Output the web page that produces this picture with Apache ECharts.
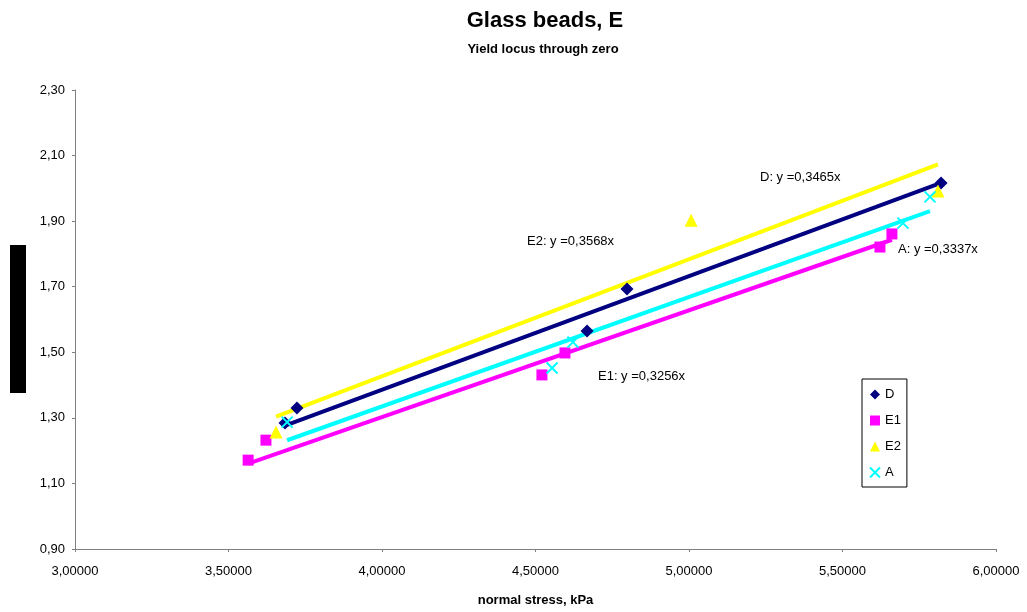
<!DOCTYPE html>
<html>
<head>
<meta charset="utf-8">
<script src="https://cdn.jsdelivr.net/npm/echarts@6/dist/echarts.min.js"></script>
<style>html,body{margin:0;padding:0;background:#fff;}#c{width:1027px;height:612px;}</style>
</head>
<body>
<div id="c"></div>
<script>
// ---- data ----
const seriesNames = ['D', 'E1', 'E2', 'A'];
const dataD  = [[3.684, 1.284], [3.723, 1.330], [4.668, 1.565], [4.798, 1.693], [5.821, 2.016]];
const dataE1 = [[3.564, 1.171], [3.622, 1.232], [4.521, 1.431], [4.596, 1.498], [5.622, 1.821], [5.661, 1.861]];
const dataE2 = [[3.655, 1.257], [5.007, 1.903], [5.811, 1.992]];
const dataA  = [[3.691, 1.287], [4.554, 1.452], [4.622, 1.531], [5.697, 1.894], [5.785, 1.974]];
const slopes = { D: 0.3465, E1: 0.3256, E2: 0.3568, A: 0.3337 };
const slopeLabels = { D: 'D: y =0,3465x', E1: 'E1: y =0,3256x', E2: 'E2: y =0,3568x', A: 'A: y =0,3337x' };
const titleText = 'Glass beads, E';
const subtitleText = 'Yield locus through zero';
const xAxisName = 'normal stress, kPa';

const colors = { D: '#000080', E1: '#FF00FF', E2: '#FFFF00', A: '#00FFFF' };
const dataMap = { D: dataD, E1: dataE1, E2: dataE2, A: dataA };
const symbols = { D: 'diamond', E1: 'rect', E2: 'triangle', A: 'path://M0,0 L10,10 M10,0 L0,10' };
const symSizes = { D: 13, E1: 11, E2: 13, A: 11 };

function trend(name) {
  const xs = dataMap[name].map(p => p[0]);
  const x0 = Math.min(...xs), x1 = Math.max(...xs);
  return [[x0, slopes[name] * x0], [x1, slopes[name] * x1]];
}

const FONT = 'Liberation Sans, Arial, sans-serif';
const series = [];
['E2', 'E1', 'A', 'D'].forEach(n => {
  series.push({
    name: n + ' trend', type: 'line', data: trend(n), symbol: 'none', silent: true,
    lineStyle: { color: colors[n], width: 4, opacity: 1 }, z: 2
  });
});
seriesNames.forEach(n => {
  const isX = n === 'A';
  series.push({
    name: n, type: 'scatter', data: dataMap[n], symbol: symbols[n], symbolSize: symSizes[n],
    itemStyle: isX ? { color: 'rgba(0,0,0,0)', borderColor: colors[n], borderWidth: 2, opacity: 1 }
                   : { color: colors[n], opacity: 1 },
    z: 5
  });
});

const chart = echarts.init(document.getElementById('c'), null, { renderer: 'canvas' });
chart.setOption({
  animation: false,
  backgroundColor: '#fff',
  textStyle: { fontFamily: FONT },
  grid: { left: 75, right: 31, top: 90, bottom: 63, containLabel: false, outerBoundsMode: 'none' },
  legend: {
    orient: 'vertical', left: 862, top: 379, data: seriesNames,
    itemWidth: 10, itemHeight: 10, itemGap: 13, padding: [9, 6, 8, 7],
    borderColor: '#000', borderWidth: 1,
    textStyle: { fontFamily: FONT, fontSize: 13, color: '#000' }
  },
  xAxis: {
    type: 'value', min: 3.0, max: 6.0, interval: 0.5,
    name: xAxisName, nameLocation: 'middle', nameGap: 45,
    nameTextStyle: { fontFamily: FONT, fontSize: 13, fontWeight: 'bold', color: '#000' },
    axisLine: { lineStyle: { color: '#808080', width: 1 } },
    axisTick: { show: true, inside: false, length: 3, lineStyle: { color: '#808080' } },
    axisLabel: { fontFamily: FONT, fontSize: 13, color: '#000', margin: 16, formatter: v => v.toFixed(5).replace('.', ',') },
    splitLine: { show: false }
  },
  yAxis: {
    type: 'value', min: 0.9, max: 2.3, interval: 0.2,
    axisLine: { show: true, lineStyle: { color: '#808080', width: 1 } },
    axisTick: { show: true, inside: false, length: 3, lineStyle: { color: '#808080' } },
    axisLabel: { fontFamily: FONT, fontSize: 13, color: '#000', margin: 10, formatter: v => v.toFixed(2).replace('.', ',') },
    splitLine: { show: false }
  },
  graphic: [
    { type: 'text', x: 545, y: 10, style: { text: titleText, font: 'bold 22px ' + FONT, fill: '#000', textAlign: 'center' } },
    { type: 'text', x: 543, y: 43, style: { text: subtitleText, font: 'bold 13px ' + FONT, fill: '#000', textAlign: 'center' } },
    { type: 'rect', left: 10, top: 245, shape: { width: 16, height: 148 }, style: { fill: '#000' } },
    { type: 'text', left: 760, top: 171, style: { text: slopeLabels.D, font: '13px ' + FONT, fill: '#000' } },
    { type: 'text', left: 527, top: 235, style: { text: slopeLabels.E2, font: '13px ' + FONT, fill: '#000' } },
    { type: 'text', left: 898, top: 243, style: { text: slopeLabels.A, font: '13px ' + FONT, fill: '#000' } },
    { type: 'text', left: 598, top: 370, style: { text: slopeLabels.E1, font: '13px ' + FONT, fill: '#000' } }
  ],
  series: series
});
</script>
</body>
</html>
